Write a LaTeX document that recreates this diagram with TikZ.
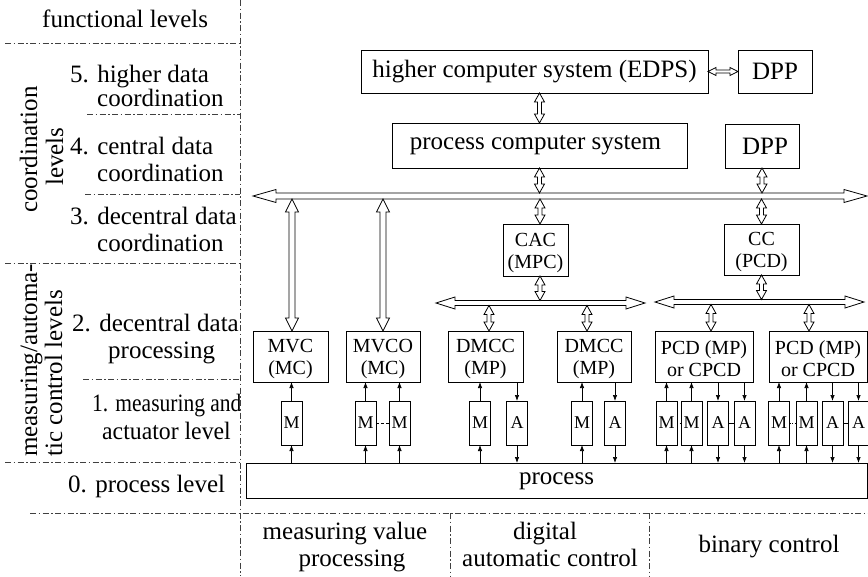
\documentclass[tikz,border=0pt]{standalone}
\usepackage{fontspec}
\setmainfont{Liberation Serif}
\usetikzlibrary{calc,arrows.meta}
\newcommand\fbig{\fontsize{25}{26}\selectfont}
\newcommand\fmid{\fontsize{20}{22}\selectfont}
\newcommand\fsml{\fontsize{18}{20}\selectfont}
% vertical hollow double arrow: #1 x-ref, #2 top, #3 bottom, #4 shaft half, #5 head half, #6 head length
\newcommand\hollowv[6]{%
  \filldraw[hollow] let \p1=(#1), \p2=(#2), \p3=(#3) in
  (\x1,\y2) -- (\x1+#5pt,\y2-#6pt) -- (\x1+#4pt,\y2-#6pt) -- (\x1+#4pt,\y3+#6pt)
  -- (\x1+#5pt,\y3+#6pt) -- (\x1,\y3) -- (\x1-#5pt,\y3+#6pt) -- (\x1-#4pt,\y3+#6pt)
  -- (\x1-#4pt,\y2-#6pt) -- (\x1-#5pt,\y2-#6pt) -- cycle;}
% horizontal hollow double arrow: #1 y-ref, #2 left, #3 right
\newcommand\hollowh[6]{%
  \filldraw[hollow] let \p1=(#1), \p2=(#2), \p3=(#3) in
  (\x2,\y1) -- (\x2+#6pt,\y1+#5pt) -- (\x2+#6pt,\y1+#4pt) -- (\x3-#6pt,\y1+#4pt)
  -- (\x3-#6pt,\y1+#5pt) -- (\x3,\y1) -- (\x3-#6pt,\y1-#5pt) -- (\x3-#6pt,\y1-#4pt)
  -- (\x2+#6pt,\y1-#4pt) -- (\x2+#6pt,\y1-#5pt) -- cycle;}
\begin{document}
\begin{tikzpicture}[x=1pt,y=-1pt,
  hollow/.style={draw=black, fill=white, line width=0.8pt, line join=miter},
  box/.style={draw, line width=0.8pt, inner sep=0pt, outer sep=0pt, align=center},
  wh/.style 2 args={minimum width=#1pt, minimum height=#2pt},
  bigbox/.style={box, font=\fbig},
  midbox/.style={box, font=\fmid, text height=41pt},
  mabox/.style={box, font=\fsml, minimum width=21pt, minimum height=44pt},
  sarr/.style={-{Latex[length=6pt,width=4.5pt]}, line width=0.7pt},
  dd/.style={draw=black!75, line width=0.6pt, dash pattern=on 6pt off 2.5pt on 1.5pt off 2.5pt},
  lbl/.style={font=\fbig, inner sep=0pt, anchor=base west},
  clbl/.style={font=\fbig, inner sep=0pt, anchor=base}]
\useasboundingbox (0,0) rectangle (868,576);

% ---------- grid of dash-dot lines ----------
\draw[dd] (240,0) -- (240,576);
\draw[dd] (5,43) -- (240,43);
\draw[dd] (87,114) -- (240,114);
\draw[dd] (85,194) -- (240,194);
\draw[dd] (5,263) -- (240,263);
\draw[dd] (83,379) -- (240,379);
\draw[dd] (5,462) -- (240,462);
\draw[dd] (30,513) -- (868,513);
\draw[dd] (450,513) -- (450,576);
\draw[dd] (649,513) -- (649,576);

% ---------- left labels ----------
\node[lbl] (fl) at (42,27) {functional levels};
\node[lbl] (l5a) at (70,82) {5. higher data};
\node[lbl] (l5b) at (97,106) {coordination};
\node[lbl] (l4a) at (70,154) {4. central data};
\node[lbl] (l4b) at (97,181) {coordination};
\node[lbl] (l3a) at (70,224) {3. decentral data};
\node[lbl] (l3b) at (97,251) {coordination};
\node[lbl] (l2a) at (72,331) {2. decentral data};
\node[lbl] (l2b) at (108,358) {processing};
\node[lbl, xscale=0.86] (l1a) at (92,411) {1. measuring and};
\node[lbl, xscale=0.95] (l1b) at (102,439) {actuator level};
\node[lbl] (l0) at (68,492) {0. process level};
\node[lbl, rotate=90] (cl1) at (37,213) {coordination};
\node[lbl, rotate=90] (cl2) at (63,186) {levels};
\node[lbl, rotate=90] (ml1) at (37,457) {measuring/automa-};
\node[lbl, rotate=90] (ml2) at (62,457) {tic control levels};

% ---------- bottom labels ----------
\node[clbl] (b1a) at (345,539) {measuring value};
\node[clbl] (b1b) at (352,566) {processing};
\node[clbl] (b2a) at (545,539) {digital};
\node[clbl] (b2b) at (550,566) {automatic control};
\node[clbl] (b3) at (769,552) {binary control};

% ---------- upper boxes ----------
\node[bigbox, wh={347}{43}] (edps) at (534.5,71.5) {higher computer system (EDPS)};
\node[bigbox, wh={74}{43}] (dppa) at (775,71.5) {DPP};
\node[bigbox, wh={295}{45}] (pcs) at (539.5,145.5) {process computer system\hspace{8pt}};
\node[bigbox, wh={74}{44}] (dppb) at (762,146) {\hspace{6pt}DPP};
\node[midbox, wh={65}{52}] (cac) at (535.5,250) {CAC\\(MPC)};
\node[midbox, wh={75}{51}] (cc) at (761.5,249.5) {CC\\(PCD)};

% ---------- level-2 boxes ----------
\node[midbox, wh={75}{51}] (mvc) at (290.5,356.5) {MVC\\(MC)};
\node[midbox, wh={74}{51}] (mvco) at (383,356.5) {MVCO\\(MC)};
\node[midbox, wh={75}{51}] (dmcca) at (485.5,356.5) {DMCC\\(MP)};
\node[midbox, wh={74}{51}] (dmccb) at (594,356.5) {DMCC\\(MP)};
\node[midbox, wh={98}{51}] (pcda) at (704,356.5) {PCD (MP)\\or CPCD};
\node[midbox, wh={98}{51}] (pcdb) at (818,356.5) {PCD (MP)\\or CPCD};

% ---------- measuring / actuator boxes ----------
\node[mabox] (m1) at (291.5,423) {M};
\node[mabox] (m2a) at (365.5,423) {M};
\node[mabox] (m2b) at (399.5,423) {M};
\node[mabox] (d1m) at (480,423) {M};
\node[mabox] (d1a) at (517,423) {A};
\node[mabox] (d2m) at (582,423) {M};
\node[mabox] (d2a) at (615,423) {A};
\node[mabox] (p1m1) at (666.5,423) {M};
\node[mabox] (p1m2) at (691.5,423) {M};
\node[mabox] (p1a1) at (718,423) {A};
\node[mabox] (p1a2) at (744.5,423) {A};
\node[mabox] (p2m1) at (779,423) {M};
\node[mabox] (p2m2) at (806.5,423) {M};
\node[mabox] (p2a1) at (832.5,423) {A};
\node[mabox] (p2a2) at (858.5,423) {A};

% ---------- process ----------
\node[bigbox, wh={621}{35}, text depth=3pt] (proc) at (556.5,480.5) {process};

% ---------- buses ----------
\coordinate (mbL) at (253,196);
\coordinate (mbR) at (867,196);
\coordinate (mbT) at (253,193);
\coordinate (mbB) at (253,199);
\coordinate (saL) at (436,303);
\coordinate (saR) at (645,303);
\coordinate (saT) at (436,300.5);
\coordinate (saB) at (436,305.5);
\coordinate (sbL) at (655,302);
\coordinate (sbR) at (864,302);
\coordinate (sbT) at (655,299.5);
\coordinate (sbB) at (655,304.5);

\hollowh{mbL}{mbL}{mbR}{3}{6.5}{23}
\hollowh{saL}{saL}{saR}{2.5}{6}{19}
\hollowh{sbL}{sbL}{sbR}{2.5}{6}{19}

% ---------- hollow connectors ----------
\hollowh{edps.east}{edps.east}{dppa.west}{1.5}{4}{8}
\hollowv{pcs.north}{edps.south}{pcs.north}{2}{5}{9}
\hollowv{pcs.south}{pcs.south}{mbT}{2}{5}{9}
\hollowv{dppb.south}{dppb.south}{mbT}{2}{5}{9}
\hollowv{[xshift=4.5pt]cac.north}{mbB}{cac.north}{2}{5}{9}
\hollowv{cc.north}{mbB}{cc.north}{2}{5}{9}
\hollowv{[xshift=4.5pt]cac.south}{cac.south}{saT}{2}{5}{9}
\hollowv{cc.south}{cc.south}{sbT}{2}{5}{9}
\hollowv{[xshift=3.5pt]dmcca.north}{saB}{dmcca.north}{2}{5}{9}
\hollowv{[xshift=-7pt]dmccb.north}{saB}{dmccb.north}{2}{5}{9}
\hollowv{[xshift=7pt]pcda.north}{sbB}{pcda.north}{2}{5}{9}
\hollowv{[xshift=-9pt]pcdb.north}{sbB}{pcdb.north}{2}{5}{9}
\hollowv{[xshift=1.5pt]mvc.north}{mbB}{mvc.north}{3}{6.5}{13}
\hollowv{mvco.north}{mbB}{mvco.north}{3}{6.5}{13}

% ---------- small arrows ----------
\foreach \m/\p in {m1/mvc, m2a/mvco, m2b/mvco, d1m/dmcca, d2m/dmccb,
                   p1m1/pcda, p1m2/pcda, p2m1/pcdb, p2m2/pcdb}{
  \draw[sarr] (\m.north) -- (\m.north |- \p.south);
  \draw[sarr] (\m.south |- proc.north) -- (\m.south);
}
\foreach \a/\p in {d1a/dmcca, d2a/dmccb, p1a1/pcda, p1a2/pcda, p2a1/pcdb, p2a2/pcdb}{
  \draw[sarr] (\a.north |- \p.south) -- (\a.north);
  \draw[sarr] (\a.south) -- (\a.south |- proc.north);
}

% ---------- links between sensor boxes ----------
\draw[line width=0.6pt, dash pattern=on 3pt off 2pt] (m2a.east) -- (m2b.west);
\draw[line width=0.5pt, dotted] (p1m1.east) -- (p1m2.west);
\draw[line width=0.4pt] (p1a1.east) -- (p1a2.west);
\draw[line width=0.5pt, dotted] (p2m1.east) -- (p2m2.west);
\draw[line width=0.4pt] (p2a1.east) -- (p2a2.west);
\end{tikzpicture}
\end{document}
